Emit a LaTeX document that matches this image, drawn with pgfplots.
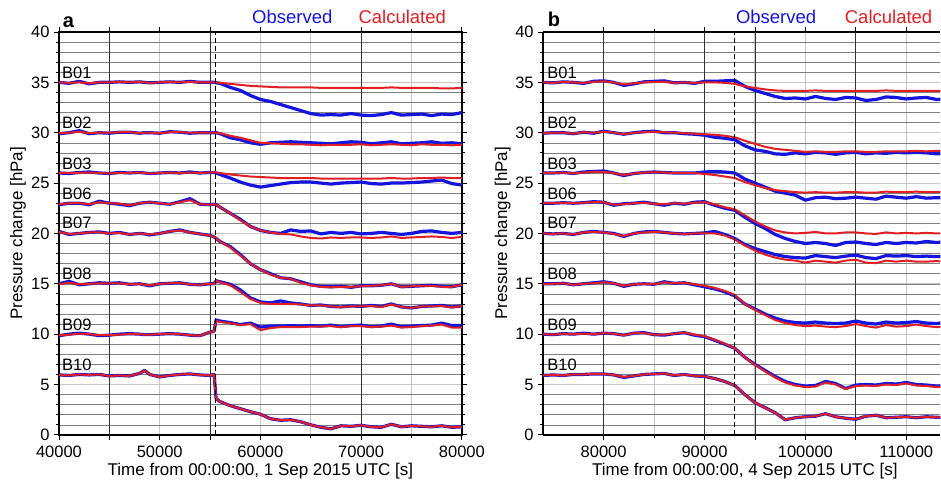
\documentclass[border=0pt]{standalone}
\usepackage{fontspec}
\setmainfont{Liberation Sans}
\usepackage{pgfplots}
\usepackage{pgfplotstable}
\pgfplotsset{compat=1.18}
\definecolor{obsblue}{RGB}{20,20,220}
\definecolor{calcred}{RGB}{225,30,35}
\newcommand{\blab}{\fontsize{16.5}{18}\selectfont}

\pgfplotstableread{
x o01 c01 o02 c02 o03 c03 o06 c06 o07 c07 o08 c08 o09 c09 o10 c10
40000 35.0 35.0 29.9 29.95 26.0 26.0 22.85 22.9 20.2 20.15 15.0 14.95 9.85 9.9 5.95 5.95
41000 34.9 34.95 30.0 30.0 25.95 26.0 23.0 23.0 19.9 19.95 15.25 15.1 10.0 9.95 5.9 5.9
42000 35.1 35.0 30.2 30.1 26.05 26.0 23.0 23.0 20.0 20.0 14.9 14.95 10.1 10.05 6.0 6.0
43000 34.85 34.9 29.9 29.95 26.1 26.05 22.85 22.9 20.1 20.1 15.0 15.0 10.0 10.0 5.95 5.95
44000 35.0 35.0 30.0 30.0 26.0 26.0 23.2 23.1 20.15 20.1 15.1 15.05 9.85 9.9 6.0 6.0
45000 35.0 35.0 29.95 30.0 25.95 25.95 23.0 23.0 20.0 20.0 15.05 15.05 9.9 9.9 5.85 5.85
46000 35.05 35.05 30.05 30.05 26.05 26.0 22.9 22.95 20.1 20.05 15.1 15.05 10.0 9.95 5.9 5.9
47000 35.0 35.0 30.05 30.05 26.0 26.0 22.75 22.8 19.9 19.9 14.95 14.95 10.05 10.0 5.85 5.85
48000 35.05 35.05 29.95 29.95 26.05 26.05 23.0 23.0 20.0 20.0 15.0 15.0 10.0 10.0 6.1 6.1
48500 35.0 35.0 30.0 30.0 26.0 26.0 23.05 23.05 19.95 19.95 14.9 14.9 9.95 9.95 6.4 6.4
49000 34.95 34.95 30.0 30.0 25.95 25.95 23.1 23.1 19.85 19.9 14.8 14.85 9.95 9.95 6.0 6.0
50000 35.0 35.0 29.95 29.95 26.0 26.0 23.0 23.0 20.0 20.0 15.0 15.0 10.0 10.0 5.75 5.75
51000 35.05 35.05 30.1 30.05 26.05 26.05 22.9 22.9 20.2 20.2 15.05 15.05 10.05 10.05 5.9 5.9
52000 35.0 35.0 30.05 30.05 26.0 26.0 23.15 23.1 20.35 20.3 15.1 15.1 10.0 10.0 6.0 6.0
53000 35.1 35.05 29.95 30.0 26.1 26.05 23.45 23.3 20.1 20.1 14.95 14.95 9.9 9.9 6.05 6.05
54000 35.0 35.0 30.0 30.0 26.0 26.0 22.9 22.9 19.95 19.95 14.9 14.9 9.85 9.85 5.95 5.95
55000 35.0 35.0 30.0 30.0 26.05 26.05 22.85 22.85 19.8 19.8 15.0 15.0 10.2 10.2 5.9 5.9
55400 35.0 35.0 30.0 30.0 26.05 26.05 22.9 22.9 19.65 19.65 15.0 15.0 10.3 10.3 6.0 6.0
55600 34.95 35.0 30.0 30.0 26.0 26.05 22.85 22.85 19.5 19.5 15.3 15.3 11.4 11.3 3.6 3.6
56000 34.9 34.95 29.9 29.95 25.85 26.0 22.6 22.6 19.2 19.2 15.2 15.15 11.3 11.2 3.3 3.3
57000 34.5 34.85 29.5 29.7 25.5 25.85 22.0 22.0 18.7 18.6 14.95 14.85 11.15 11.1 2.9 2.9
58000 34.2 34.75 29.3 29.5 25.1 25.75 21.4 21.3 17.9 17.8 14.4 14.2 10.95 10.9 2.6 2.6
59000 33.7 34.65 29.0 29.25 24.8 25.65 20.7 20.7 17.0 17.0 13.6 13.5 11.1 11.0 2.3 2.3
60000 33.3 34.6 28.85 29.0 24.6 25.6 20.3 20.3 16.4 16.4 13.2 13.1 10.7 10.4 2.05 2.05
61000 33.1 34.55 29.0 28.95 24.75 25.55 20.1 20.1 16.0 15.9 13.1 13.0 10.8 10.6 1.6 1.6
62000 32.8 34.5 29.05 28.9 24.9 25.5 20.0 19.95 15.6 15.6 13.3 13.0 10.8 10.7 1.45 1.45
63000 32.5 34.5 29.1 28.85 25.05 25.5 20.35 19.9 15.5 15.5 13.1 13.0 10.85 10.7 1.5 1.5
64000 32.2 34.5 29.05 28.85 25.1 25.5 20.2 19.7 15.2 15.1 13.0 12.95 10.8 10.7 1.3 1.3
65000 31.9 34.5 29.0 28.8 25.1 25.5 20.25 19.55 14.9 14.85 12.85 12.85 10.85 10.75 1.0 1.0
66000 31.75 34.45 28.95 28.75 25.0 25.45 19.95 19.5 14.75 14.7 12.9 12.85 10.8 10.75 0.75 0.75
67000 31.8 34.45 28.9 28.8 24.9 25.45 20.1 19.6 14.7 14.65 12.75 12.75 10.9 10.8 0.6 0.6
68000 31.75 34.45 29.0 28.8 25.0 25.45 20.0 19.55 14.75 14.7 12.7 12.7 10.75 10.7 0.9 0.9
69000 31.9 34.45 29.1 28.8 25.05 25.45 20.1 19.6 14.65 14.7 12.8 12.75 10.85 10.8 0.85 0.85
70000 31.75 34.45 29.05 28.85 25.1 25.45 19.95 19.6 14.8 14.75 12.75 12.75 10.9 10.8 0.95 0.95
71000 31.7 34.45 28.9 28.75 24.95 25.45 20.0 19.55 14.8 14.8 12.85 12.8 10.75 10.7 0.8 0.8
72000 31.8 34.45 29.0 28.8 24.9 25.45 20.1 19.6 14.85 14.85 12.75 12.7 10.8 10.75 0.75 0.75
73000 32.0 34.5 29.1 28.85 25.0 25.5 20.0 19.7 15.0 15.0 13.0 12.95 11.0 10.85 1.05 1.05
74000 31.75 34.45 28.9 28.8 25.0 25.45 19.9 19.55 14.7 14.7 12.7 12.7 10.75 10.65 0.8 0.8
75000 31.8 34.45 28.95 28.75 25.05 25.45 20.0 19.6 14.75 14.75 12.6 12.6 10.8 10.7 0.9 0.9
76000 31.85 34.45 29.0 28.85 25.1 25.5 20.2 19.65 14.8 14.8 12.75 12.75 10.85 10.8 0.85 0.85
77000 31.7 34.45 29.1 28.8 25.2 25.5 20.25 19.7 14.85 14.8 12.8 12.75 10.9 10.85 0.8 0.8
78000 31.85 34.4 28.95 28.8 25.3 25.55 20.1 19.65 14.75 14.7 12.85 12.8 11.1 10.95 0.9 0.9
79000 31.8 34.4 29.0 28.75 24.95 25.5 20.0 19.55 14.7 14.7 12.7 12.65 10.85 10.65 0.75 0.75
80000 32.0 34.45 28.9 28.8 24.8 25.5 20.1 19.65 14.9 14.9 12.8 12.8 10.85 10.65 0.8 0.8
}\tabA

\pgfplotstableread{
x o01 c01 o02 c02 o03 c03 o06 c06 o07 c07 o08 c08 o09 c09 o10 c10
74000 35.0 35.0 29.95 29.95 26.0 26.0 23.0 23.0 20.0 20.0 15.0 15.0 10.0 10.0 5.9 5.9
75000 34.95 34.95 30.0 30.0 26.0 26.0 23.0 23.0 19.95 19.95 15.0 15.0 9.95 9.95 5.95 5.95
76000 35.05 35.05 30.0 30.0 26.05 26.05 23.05 23.05 20.0 20.0 15.05 15.05 10.05 10.05 5.9 5.9
77000 35.0 35.0 29.9 29.9 25.95 25.95 23.0 23.0 19.9 19.9 14.9 14.9 10.0 10.0 6.0 6.0
78000 34.9 34.95 30.05 30.05 26.1 26.05 23.05 23.05 20.1 20.1 15.0 15.0 10.1 10.05 6.0 6.0
79000 35.1 35.05 29.95 30.0 26.15 26.1 23.15 23.1 20.2 20.15 15.1 15.05 10.0 10.0 6.05 6.05
80000 35.15 35.1 30.15 30.1 26.2 26.1 23.1 23.1 20.1 20.1 15.2 15.15 10.1 10.1 6.05 6.05
81000 35.0 35.0 30.0 30.0 26.0 26.0 22.8 22.85 20.0 19.95 15.05 15.05 10.05 10.05 5.95 5.95
82000 34.7 34.8 29.85 29.85 25.75 25.8 22.95 22.9 19.7 19.75 14.75 14.8 9.9 9.9 5.7 5.75
83000 34.85 34.9 30.0 30.0 25.95 25.95 23.0 23.0 20.0 20.0 14.95 14.95 10.1 10.1 5.85 5.85
84000 35.05 35.0 30.1 30.05 26.05 26.05 23.1 23.05 20.15 20.1 15.0 15.0 10.15 10.1 6.0 6.0
85000 35.1 35.05 30.15 30.1 26.1 26.05 22.95 22.95 20.2 20.15 14.95 14.95 9.95 9.95 6.05 6.05
86000 35.15 35.05 30.0 30.05 26.05 26.05 22.8 22.9 20.1 20.1 15.2 15.15 9.9 9.95 6.1 6.1
87000 34.95 34.95 30.0 30.0 26.0 26.0 23.0 23.0 20.0 20.0 15.05 15.05 10.05 10.05 5.9 5.9
88000 35.0 35.0 29.9 29.95 26.0 26.0 22.9 22.95 19.95 19.95 15.1 15.1 10.15 10.15 6.0 6.0
89000 34.9 34.95 29.85 29.9 26.0 26.0 23.1 23.05 20.0 20.0 14.9 14.95 9.9 9.95 5.85 5.85
90000 35.1 35.0 29.75 29.85 26.1 25.9 23.15 23.1 20.05 20.0 14.7 14.8 9.75 9.8 5.8 5.8
91000 35.1 35.0 29.55 29.8 26.15 25.8 22.8 22.9 20.2 20.0 14.5 14.6 9.4 9.45 5.6 5.6
92000 35.15 34.95 29.45 29.7 26.1 25.65 22.5 22.6 19.9 19.8 14.2 14.3 9.0 9.05 5.3 5.3
93000 35.2 34.85 29.3 29.55 26.0 25.5 22.3 22.4 19.5 19.4 13.8 13.9 8.6 8.6 4.9 4.9
94000 34.6 34.6 28.7 29.2 25.4 25.1 21.6 21.8 18.9 18.8 13.0 13.0 7.7 7.7 4.0 4.0
95000 34.2 34.45 28.3 28.9 25.0 24.8 21.0 21.2 18.5 18.3 12.5 12.4 7.0 6.95 3.2 3.2
96000 33.9 34.3 28.15 28.6 24.6 24.5 20.5 20.7 18.2 17.9 12.0 11.9 6.4 6.3 2.7 2.7
97000 33.6 34.2 27.9 28.4 24.2 24.3 19.9 20.3 17.9 17.6 11.6 11.4 5.8 5.7 2.2 2.2
98000 33.4 34.15 27.85 28.3 24.0 24.2 19.5 20.1 17.7 17.4 11.3 11.1 5.3 5.2 1.5 1.5
99000 33.45 34.15 28.0 28.2 23.8 24.1 19.2 20.0 17.6 17.3 11.15 10.9 5.0 4.9 1.7 1.7
100000 33.35 34.15 27.9 28.1 23.3 24.05 19.0 20.05 17.55 17.1 11.1 10.8 4.85 4.75 1.8 1.8
101000 33.6 34.2 28.05 28.15 23.55 24.1 19.1 20.15 17.8 17.3 11.2 10.85 4.9 4.8 1.85 1.85
102000 33.4 34.15 28.0 28.1 23.6 24.05 19.0 20.0 17.7 17.2 11.1 10.75 5.3 5.2 2.1 2.1
103000 33.3 34.15 27.85 28.1 23.45 24.05 18.8 20.0 17.6 17.1 11.05 10.7 5.1 5.0 1.8 1.8
104000 33.5 34.15 28.0 28.15 23.5 24.1 19.1 20.1 17.75 17.3 11.1 10.8 4.6 4.55 1.65 1.65
105000 33.45 34.15 28.05 28.15 23.6 24.1 19.15 20.1 17.85 17.4 11.3 11.0 4.95 4.85 1.55 1.55
106000 33.2 34.15 27.9 28.1 23.5 24.05 19.0 20.0 17.6 17.1 11.1 10.8 5.0 4.9 1.85 1.85
107000 33.3 34.15 28.0 28.1 23.4 24.05 18.9 19.95 17.5 17.05 11.0 10.65 4.95 4.85 1.95 1.95
108000 33.55 34.2 27.95 28.15 23.7 24.15 19.1 20.1 17.8 17.3 11.2 10.9 5.1 5.0 1.7 1.7
109000 33.5 34.15 28.05 28.15 23.6 24.1 19.0 20.0 17.75 17.2 11.1 10.75 5.05 4.95 1.75 1.75
110000 33.35 34.15 28.0 28.15 23.5 24.1 19.1 20.05 17.8 17.3 11.15 10.8 5.2 5.1 1.8 1.8
111000 33.45 34.15 28.05 28.2 23.65 24.15 19.05 20.0 17.7 17.2 11.25 10.95 5.0 4.9 1.7 1.7
112000 33.5 34.15 28.0 28.15 23.5 24.1 19.2 20.05 17.75 17.2 11.1 10.8 4.95 4.85 1.8 1.8
113000 33.3 34.15 27.9 28.2 23.55 24.1 19.1 20.0 17.7 17.25 11.05 10.7 4.85 4.75 1.75 1.75
114000 33.35 34.15 27.95 28.2 23.5 24.1 19.2 20.0 17.7 17.2 11.2 10.75 4.9 4.8 1.7 1.7
}\tabB

\pgfplotsset{
  obs/.style={obsblue, line width=3.2pt, line join=round},
  calc/.style={calcred, line width=2pt, line join=round},
  panel/.style={
    scale only axis, height=403pt, ymin=0, ymax=40,
    clip mode=individual,
    ytick={0,5,10,15,20,25,30,35,40}, minor ytick={1,...,39},
    ymajorgrids, yminorgrids, xmajorgrids, xminorgrids,
    major y grid style={black!22, line width=1pt},
    minor y grid style={black!50, line width=0.55pt},
    major x grid style={black!22, line width=0.9pt},
    minor x grid style={black!22, line width=0.9pt},
    tick align=outside, major tick length=5pt, minor tick length=3pt,
    tick style={black, line width=0.8pt},
    axis line style={line width=1.4pt},
    scaled x ticks=false,
    /pgf/number format/.cd, fixed, precision=0, 1000 sep={}, assume math mode=true, /pgfplots/.cd,
    tick label style={font=\fontsize{16.5}{18}\selectfont},
    xticklabel style={yshift=-2.5pt},
    yticklabel style={xshift=-1pt},
    label style={font=\fontsize{17}{19}\selectfont},
    extra x tick labels={},
    extra x tick style={grid=major, major grid style={black!80, line width=0.75pt}, major x grid style={black!80, line width=0.75pt}},
    ylabel={Pressure change [hPa]},
    xlabel style={at={(axis description cs:0.5,-0.089)}, anchor=center},
    ylabel style={at={(axis description cs:-0.102,0.5)}, anchor=center},
  }
}

\begin{document}
\begin{tikzpicture}
\path (0,0) rectangle (941pt,485pt);
\begin{axis}[panel, at={(59pt,50pt)}, anchor=south west, width=403pt,
  xmin=40000, xmax=80000,
  xtick={40000,50000,60000,70000,80000},
  minor xtick={45000,55000,65000,75000},
  extra x ticks={45000,55000,70000},
  xlabel={Time from 00:00:00, 1 Sep 2015 UTC [s]}]
\pgfplotsinvokeforeach{01,02,03,06,07,08,09,10}{
  \addplot[obs] table[x=x, y=o#1] {\tabA};
  \addplot[calc] table[x=x, y=c#1] {\tabA};
}
\addplot[black, line width=1.3pt, dash pattern=on 5pt off 3pt] coordinates {(55550,0) (55550,40)};
\node[anchor=south west, font=\blab, inner sep=0pt] at (axis cs:40300,35.35) {B01};
\node[anchor=south west, font=\blab, inner sep=0pt] at (axis cs:40300,30.35) {B02};
\node[anchor=south west, font=\blab, inner sep=0pt] at (axis cs:40300,26.35) {B03};
\node[anchor=south west, font=\blab, inner sep=0pt] at (axis cs:40300,23.35) {B06};
\node[anchor=south west, font=\blab, inner sep=0pt] at (axis cs:40300,20.45) {B07};
\node[anchor=south west, font=\blab, inner sep=0pt] at (axis cs:40300,15.35) {B08};
\node[anchor=south west, font=\blab, inner sep=0pt] at (axis cs:40300,10.35) {B09};
\node[anchor=south west, font=\blab, inner sep=0pt] at (axis cs:40300,6.35) {B10};
\node[anchor=base west, font=\fontsize{20}{22}\selectfont\bfseries, inner sep=0pt] at (rel axis cs:0.009,1.012) {a};
\node[anchor=base, font=\fontsize{18.5}{20}\selectfont, text=obsblue, inner sep=0pt] at (rel axis cs:0.579,1.02) {Observed};
\node[anchor=base, font=\fontsize{18.5}{20}\selectfont, text=calcred, inner sep=0pt] at (rel axis cs:0.852,1.02) {Calculated};
\end{axis}

\begin{axis}[panel, at={(543.3pt,50pt)}, anchor=south west, width=397.3pt,
  xmin=74000, xmax=113380,
  axis x line*=box, axis y line*=left,
  xtick={80000,90000,100000,110000},
  minor xtick={85000,95000,105000},
  extra x ticks={80000,90000,95000,105000},
  xlabel={Time from 00:00:00, 4 Sep 2015 UTC [s]},
  xlabel style={at={(axis cs:94000,0)}, anchor=center, yshift=-36pt}]
\pgfplotsinvokeforeach{01,02,03,06,07,08,09,10}{
  \addplot[obs] table[x=x, y=o#1] {\tabB};
  \addplot[calc] table[x=x, y=c#1] {\tabB};
}
\addplot[black, line width=1.3pt, dash pattern=on 5pt off 3pt] coordinates {(93000,0) (93000,40)};
\node[anchor=south west, font=\blab, inner sep=0pt] at (axis cs:74400,35.35) {B01};
\node[anchor=south west, font=\blab, inner sep=0pt] at (axis cs:74400,30.35) {B02};
\node[anchor=south west, font=\blab, inner sep=0pt] at (axis cs:74400,26.35) {B03};
\node[anchor=south west, font=\blab, inner sep=0pt] at (axis cs:74400,23.35) {B06};
\node[anchor=south west, font=\blab, inner sep=0pt] at (axis cs:74400,20.45) {B07};
\node[anchor=south west, font=\blab, inner sep=0pt] at (axis cs:74400,15.35) {B08};
\node[anchor=south west, font=\blab, inner sep=0pt] at (axis cs:74400,10.35) {B09};
\node[anchor=south west, font=\blab, inner sep=0pt] at (axis cs:74400,6.35) {B10};
\node[anchor=base west, font=\fontsize{20}{22}\selectfont\bfseries, inner sep=0pt] at (axis cs:74450,40.5) {b};
\node[anchor=base, font=\fontsize{18.5}{20}\selectfont, text=obsblue, inner sep=0pt] at (axis cs:97100,40.8) {Observed};
\node[anchor=base, font=\fontsize{18.5}{20}\selectfont, text=calcred, inner sep=0pt] at (axis cs:108250,40.8) {Calculated};
\end{axis}
\end{tikzpicture}
\end{document}
